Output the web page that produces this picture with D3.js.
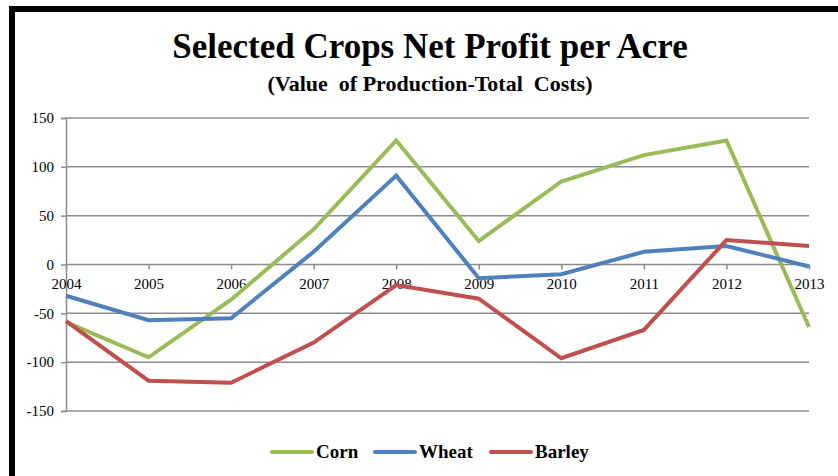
<!DOCTYPE html>
<html lang="en">
<head>
<meta charset="utf-8">
<title>Selected Crops Net Profit per Acre</title>
<script src="https://d3js.org/d3.v7.min.js"></script>
<style>
body { margin:0; background:#fff; }
text { font-family: "Liberation Serif", "Times New Roman", serif; }
.grid line { stroke:#8c8c8c; stroke-width:1.5; }
</style>
</head>
<body>
<div id="chart"></div>
<script>
var years = [2004, 2005, 2006, 2007, 2008, 2009, 2010, 2011, 2012, 2013];
var corn   = [-59, -95, -36, 36, 127, 24, 85, 112, 127, -64];
var wheat  = [-32, -57, -55, 13, 91, -14, -10, 13, 19, -2];
var barley = [-58, -119, -121, -80, -21, -35, -96, -67, 25, 19];
var yTicks = [150, 100, 50, 0, -50, -100, -150];

var series = [
  {name:"Corn", values:corn, color:"#9bbb59"},
  {name:"Wheat", values:wheat, color:"#4f81bd"},
  {name:"Barley", values:barley, color:"#c0504d"}
];

var W = 838, H = 476;
var svg = d3.select("#chart").append("svg").attr("width",W).attr("height",H);

// thick frame on top and left
svg.append("path").attr("d","M12,"+(H+10)+" L12,9 L"+(W+10)+",9")
  .attr("fill","none").attr("stroke","#000").attr("stroke-width",6);

var x = d3.scalePoint().domain(years).range([66, 809]);
var y = d3.scaleLinear().domain([-150, 150]).range([411, 118]);

// grid lines
svg.append("g").attr("class","grid").selectAll("line").data(yTicks).enter().append("line")
  .attr("x1",66).attr("x2",809).attr("y1",function(d){return y(d);}).attr("y2",function(d){return y(d);});

// y axis
var yAxis = svg.append("g").attr("transform","translate(66,0)")
  .call(d3.axisLeft(y).tickValues(yTicks).tickSize(5).tickPadding(7)
    .tickFormat(function(d){return String(d);}));
yAxis.select(".domain").attr("stroke","#8c8c8c").attr("stroke-width",1.5);
yAxis.selectAll(".tick line").attr("stroke","#8c8c8c").attr("stroke-width",1.5);

// x axis through zero
var xAxis = svg.append("g").attr("transform","translate(0,"+y(0)+")")
  .call(d3.axisBottom(x).tickSize(5).tickPadding(9));
xAxis.select(".domain").remove();
xAxis.selectAll(".tick line").attr("stroke","#8c8c8c").attr("stroke-width",1.5);

svg.selectAll(".tick text")
  .style("font-family","'Liberation Serif', serif")
  .style("font-size","15px")
  .style("fill","#000");

// lines
var line = d3.line().x(function(d,i){return x(years[i]);}).y(function(d){return y(d);});
svg.selectAll(".series").data(series).enter().append("path")
  .attr("class","series")
  .attr("d",function(s){return line(s.values);})
  .attr("fill","none").attr("stroke",function(s){return s.color;})
  .attr("stroke-width",4).attr("stroke-linejoin","miter");

// titles
svg.append("text").attr("x",430).attr("y",58).attr("text-anchor","middle")
  .attr("font-size",35).attr("font-weight","bold").text("Selected Crops Net Profit per Acre");
svg.append("text").attr("x",430).attr("y",91).attr("text-anchor","middle")
  .attr("font-size",22).attr("font-weight","bold").style("white-space","pre")
  .text("(Value  of Production-Total  Costs)");

// legend
var legX = [272, 375, 491];
var leg = svg.selectAll(".leg").data(series).enter().append("g")
  .attr("transform",function(d,i){return "translate("+legX[i]+",452)";});
leg.append("line").attr("x1",0).attr("x2",40).attr("y1",0).attr("y2",0)
  .attr("stroke",function(d){return d.color;}).attr("stroke-width",4).attr("stroke-linecap","round");
leg.append("text").attr("x",44).attr("y",6).attr("font-size",19).attr("font-weight","bold")
  .text(function(d){return d.name;});
</script>
</body>
</html>
